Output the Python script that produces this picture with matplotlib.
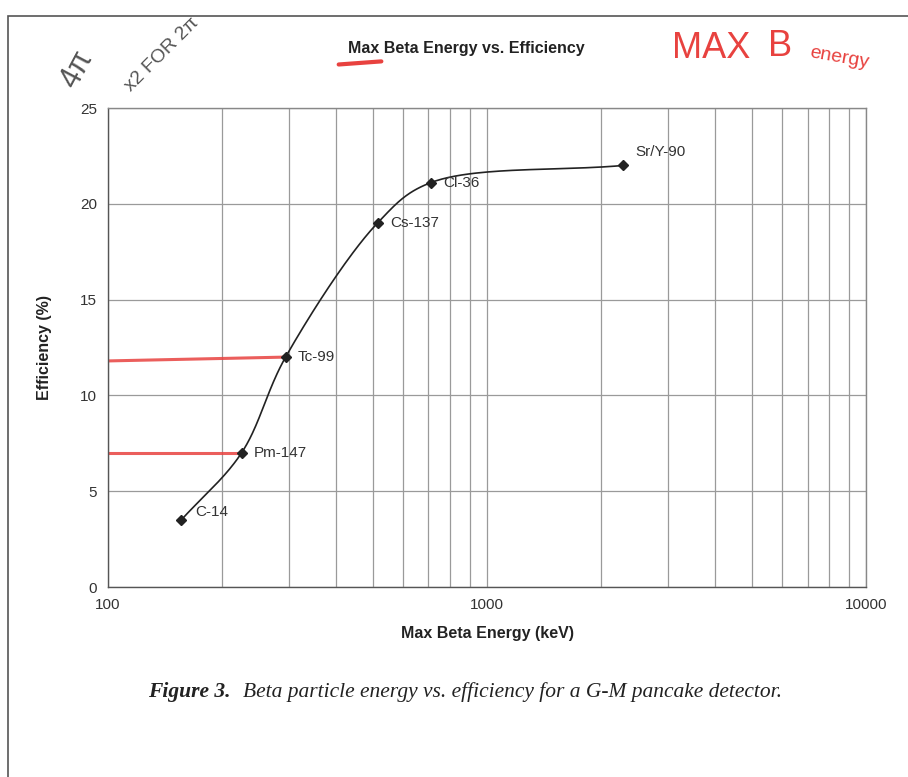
import numpy as np
import matplotlib.pyplot as plt
from matplotlib.patches import Rectangle
from matplotlib.lines import Line2D

# data
isotopes = ['C-14', 'Pm-147', 'Tc-99', 'Cs-137', 'Cl-36', 'Sr/Y-90']
energy_kev = [156, 225, 294, 514, 709, 2280]
efficiency = [3.5, 7.0, 12.0, 19.0, 21.1, 22.0]

# label offsets in points (x, y)
label_offsets = [(10, 6), (9, 0), (9, 0), (9, 0), (9, 0), (9, 10)]

# red pen marks drawn across to the axis
red_marks_y = [[11.8, 12.0], [7.0, 7.0]]
red_marks_x = [[100, 294], [100, 225]]


def centripetal_spline(px, py, n=50, alpha=0.5):
    # smooth curve through the points, close to Excel's smoothed line
    P = np.column_stack([px, py]).astype(float)
    P = np.vstack([2 * P[0] - P[1], P, 2 * P[-1] - P[-2]])
    out = []
    for i in range(1, len(P) - 2):
        p0, p1, p2, p3 = P[i - 1], P[i], P[i + 1], P[i + 2]
        t0 = 0.0
        t1 = t0 + np.linalg.norm(p1 - p0) ** alpha
        t2 = t1 + np.linalg.norm(p2 - p1) ** alpha
        t3 = t2 + np.linalg.norm(p3 - p2) ** alpha
        t = np.linspace(t1, t2, n)[:, None]
        a1 = (t1 - t) / (t1 - t0) * p0 + (t - t0) / (t1 - t0) * p1
        a2 = (t2 - t) / (t2 - t1) * p1 + (t - t1) / (t2 - t1) * p2
        a3 = (t3 - t) / (t3 - t2) * p2 + (t - t2) / (t3 - t2) * p3
        b1 = (t2 - t) / (t2 - t0) * a1 + (t - t0) / (t2 - t0) * a2
        b2 = (t3 - t) / (t3 - t1) * a2 + (t - t1) / (t3 - t1) * a3
        out.append((t2 - t) / (t2 - t1) * b1 + (t - t1) / (t2 - t1) * b2)
    out = np.vstack(out)
    return out[:, 0], out[:, 1]


plt.rcParams['font.family'] = ['Liberation Sans', 'DejaVu Sans']

fig = plt.figure(figsize=(9.08, 7.77), dpi=100)
ax = fig.add_axes([0.119, 0.2445, 0.835, 0.6165])

# spline in screen-like units (log x scaled to pixels)
sx = np.log10(energy_kev) * 379.0
sy = np.array(efficiency) * 479.0 / 25.0
cx, cy = centripetal_spline(sx, sy)
ax.plot(10 ** (cx / 379.0), cy * 25.0 / 479.0, color='#222222', lw=1.2, zorder=3)
ax.plot(energy_kev, efficiency, ls='none', marker='D', ms=5.5,
        color='#222222', zorder=4)

for name, xv, yv, off in zip(isotopes, energy_kev, efficiency, label_offsets):
    ax.annotate(name, (xv, yv), xytext=off, textcoords='offset points',
                fontsize=11, color='#333333', va='center', ha='left')

for xs, ys in zip(red_marks_x, red_marks_y):
    ax.plot(xs, ys, color='#e8423f', lw=2.2, alpha=0.85, zorder=2,
            solid_capstyle='round')

ax.set_xscale('log')
ax.set_xlim(100, 10000)
ax.set_ylim(0, 25)
ax.set_yticks([0, 5, 10, 15, 20, 25])
ax.set_xticks([100, 1000, 10000])
ax.set_xticklabels(['100', '1000', '10000'])
ax.grid(True, which='major', color='#9a9a9a', lw=0.9)
ax.grid(True, which='minor', axis='x', color='#9a9a9a', lw=0.9)
ax.tick_params(which='both', length=0, labelsize=11, colors='#333333', pad=8)
for s in ax.spines.values():
    s.set_color('#888888')
    s.set_linewidth(1.0)
ax.spines['left'].set_color('#555555')
ax.spines['bottom'].set_color('#555555')

ax.set_xlabel('Max Beta Energy (keV)', fontsize=11.5, fontweight='bold',
              color='#222222', labelpad=10)
ax.set_ylabel('Efficiency (%)', fontsize=11.5, fontweight='bold',
              color='#222222', labelpad=20)
fig.text(0.514, 0.937, 'Max Beta Energy vs. Efficiency', fontsize=11.5,
         fontweight='bold', ha='center', va='center', color='#222222')

# caption under the chart
fig.text(0.163, 0.109, 'Figure 3.', fontsize=15.5, fontweight='bold',
         style='italic', family='Liberation Serif', ha='left', va='center',
         color='#222222')
fig.text(0.268, 0.109, 'Beta particle energy vs. efficiency for a G-M pancake detector.',
         fontsize=15.5, style='italic', family='Liberation Serif', ha='left',
         va='center', color='#222222')

# page frame from the scan
fig.patches.append(Rectangle((0.009, -0.05), 1.1, 1.03, transform=fig.transFigure,
                             fill=False, ec='#555555', lw=1.2))

# handwritten notes
fig.text(0.085, 0.91, '4π', fontsize=22, rotation=62, ha='center', va='center',
         color='#555555')
fig.text(0.178, 0.93, 'x2 FOR 2π', fontsize=14, rotation=45, ha='center',
         va='center', color='#555555')
fig.text(0.74, 0.937, 'MAX', fontsize=26, ha='left', va='center',
         color='#e8423f', fontweight='light')
fig.text(0.846, 0.94, 'B', fontsize=26, ha='left', va='center',
         color='#e8423f')
fig.text(0.89, 0.925, 'energy', fontsize=14, ha='left', va='center',
         color='#e8423f', rotation=-10)
fig.lines.append(Line2D([0.373, 0.42], [0.917, 0.921], transform=fig.transFigure,
                        color='#e8423f', lw=3, solid_capstyle='round'))

fig.savefig('out.png', dpi=100, facecolor='white')
